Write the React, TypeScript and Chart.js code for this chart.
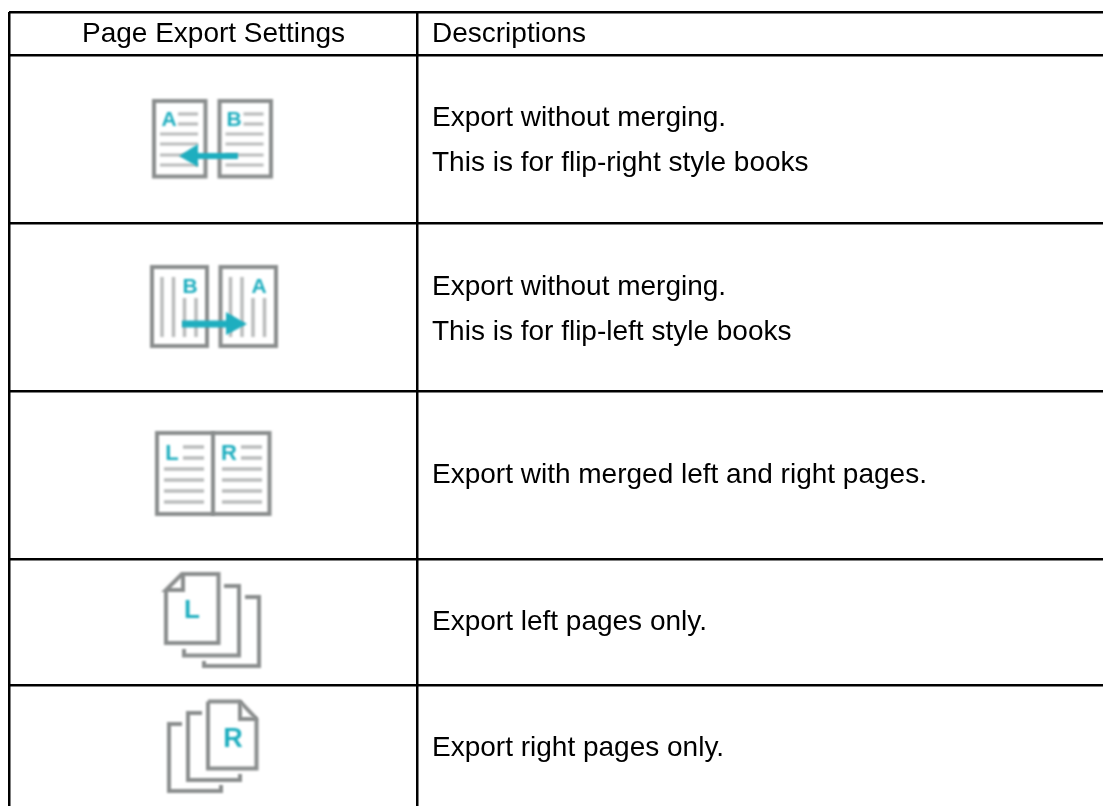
import React, { useEffect, useRef } from "react";
import { Chart, registerables } from "chart.js";

Chart.register(...registerables);

const headers = ["Page Export Settings", "Descriptions"];
const descriptions = [
  ["Export without merging.", "This is for flip-right style books"],
  ["Export without merging.", "This is for flip-left style books"],
  ["Export with merged left and right pages."],
  ["Export left pages only."],
  ["Export right pages only."],
];
const rowEdges = [12, 55, 223, 391, 559, 685];
const colEdges = [9, 417];
const iconKinds = ["flipRight", "flipLeft", "merged", "leftOnly", "rightOnly"];
const rowCenters = [141, 310, 475, 622, 748];

const GREY = "#8a8d8d";
const LIGHT = "#b9bbbb";
const TEAL = "#1eaebf";
const TEXT_FONT = '28px "Liberation Sans"';

const tablePlugin = {
  id: "table",
  afterDraw(chart: any) {
    const { ctx, scales } = chart;
    const X = (v: number) => scales.x.getPixelForValue(v);
    const Y = (v: number) => scales.y.getPixelForValue(v);
    ctx.save();
    ctx.fillStyle = "#000";
    ctx.textBaseline = "middle";
    ctx.font = TEXT_FONT;
    ctx.textAlign = "center";
    ctx.fillText(headers[0], X(213.5), Y(34));
    ctx.textAlign = "left";
    ctx.fillText(headers[1], X(432), Y(34));
    descriptions.forEach((lines, i) => {
      lines.forEach((t, j) => {
        ctx.fillText(t, X(432), Y(rowCenters[i] + (j - (lines.length - 1) / 2) * 45));
      });
    });
    ctx.restore();

    const line = (pts: number[], color: string, w: number) => {
      ctx.strokeStyle = color;
      ctx.lineWidth = w;
      ctx.lineJoin = "miter";
      ctx.beginPath();
      for (let k = 0; k < pts.length; k += 2) {
        const px = X(pts[k]);
        const py = Y(pts[k + 1]);
        if (k === 0) ctx.moveTo(px, py);
        else ctx.lineTo(px, py);
      }
      ctx.stroke();
    };
    const poly = (pts: number[], color: string) => {
      ctx.fillStyle = color;
      ctx.beginPath();
      for (let k = 0; k < pts.length; k += 2) {
        if (k === 0) ctx.moveTo(X(pts[k]), Y(pts[k + 1]));
        else ctx.lineTo(X(pts[k]), Y(pts[k + 1]));
      }
      ctx.closePath();
      ctx.fill();
    };
    const letter = (t: string, cx: number, cy: number, size = 21) => {
      ctx.fillStyle = TEAL;
      ctx.font = `bold ${size}px "Liberation Sans"`;
      ctx.textAlign = "center";
      ctx.textBaseline = "middle";
      ctx.fillText(t, X(cx), Y(cy + 1));
    };
    const rect = (x0: number, y0: number, x1: number, y1: number, w = 4) =>
      line([x0, y0, x1, y0, x1, y1, x0, y1, x0, y0 - w / 2], GREY, w);

    ctx.save();
    ctx.filter = "blur(0.9px)";
    iconKinds.forEach((kind) => {
      if (kind === "flipRight") {
        rect(154, 101, 205.5, 176.5);
        rect(219.5, 101, 271, 176.5);
        for (const ox of [0, 65.5]) {
          for (const y of [114, 124]) line([ox + 178, y, ox + 198, y], LIGHT, 3.2);
          for (const y of [134, 144, 155, 165]) line([ox + 160, y, ox + 198, y], LIGHT, 3.2);
        }
        letter("A", 169, 119);
        letter("B", 234, 119);
        line([238, 156, 190, 156], TEAL, 6);
        poly([179, 156, 198, 144, 198, 167], TEAL);
      } else if (kind === "flipLeft") {
        rect(152, 267, 207, 346);
        rect(220.5, 267, 276, 346);
        for (const ox of [0, 68.5]) {
          for (const vx of [162, 173.5]) line([ox + vx, 277, ox + vx, 337], LIGHT, 3.5);
          for (const vx of [184.5, 196]) line([ox + vx, 298, ox + vx, 337], LIGHT, 3.5);
        }
        letter("B", 190, 286);
        letter("A", 259, 286);
        line([182, 324, 230, 324], TEAL, 7);
        poly([247, 324, 226, 312, 226, 335], TEAL);
      } else if (kind === "merged") {
        rect(157, 433, 269.5, 514);
        line([213, 432, 213, 515], GREY, 4);
        for (const ox of [0, 58]) {
          for (const y of [447, 458]) line([ox + 183, y, ox + 204, y], LIGHT, 3.5);
          for (const y of [469, 480, 491, 502]) line([ox + 164, y, ox + 204, y], LIGHT, 3.5);
        }
        letter("L", 172, 453, 22);
        letter("R", 229, 453, 22);
      } else if (kind === "leftOnly") {
        line([166, 590, 166, 643, 218.5, 643, 218.5, 574, 182, 574, 166, 590, 183, 590, 183, 574], GREY, 4);
        line([224, 586, 239, 586, 239, 655.5, 184, 655.5, 184, 649], GREY, 4);
        line([245, 597, 259, 597, 259, 666, 204, 666, 204, 661], GREY, 4);
        letter("L", 192, 610, 26);
      } else {
        line([208, 701.5, 240, 701.5, 256.5, 719, 256.5, 768.5, 208, 768.5, 208, 701.5], GREY, 4);
        line([240, 701.5, 240, 719, 256.5, 719], GREY, 4);
        line([202, 713, 188, 713, 188, 780, 240, 780, 240, 774], GREY, 4);
        line([182, 724, 169, 724, 169, 791, 221, 791, 221, 785], GREY, 4);
        letter("R", 233, 739, 27);
      }
    });
    ctx.restore();
  },
};

export default function App() {
  const ref = useRef<HTMLCanvasElement>(null);
  useEffect(() => {
    const chart = new Chart(ref.current!, {
      type: "scatter",
      data: { datasets: [] },
      plugins: [tablePlugin],
      options: {
        animation: false,
        responsive: false,
        layout: { padding: { left: 9, top: 12 } },
        plugins: { legend: { display: false }, tooltip: { enabled: false } },
        scales: {
          x: {
            type: "linear",
            min: 9,
            max: 1103,
            afterBuildTicks: (a: any) => { a.ticks = colEdges.map((value) => ({ value })); },
            ticks: { display: false },
            grid: { color: "#000", lineWidth: 2.5, drawTicks: false },
            border: { display: false },
          },
          y: {
            type: "linear",
            min: 12,
            max: 806,
            reverse: true,
            afterBuildTicks: (a: any) => { a.ticks = rowEdges.map((value) => ({ value })); },
            ticks: { display: false },
            grid: { color: "#000", lineWidth: 2.5, drawTicks: false },
            border: { display: false },
          },
        },
      },
    } as any);
    return () => chart.destroy();
  }, []);
  return (
    <canvas
      ref={ref}
      width={1103}
      height={806}
      style={{ position: "fixed", left: 0, top: 0, width: 1103, height: 806, background: "#fff" }}
    />
  );
}
